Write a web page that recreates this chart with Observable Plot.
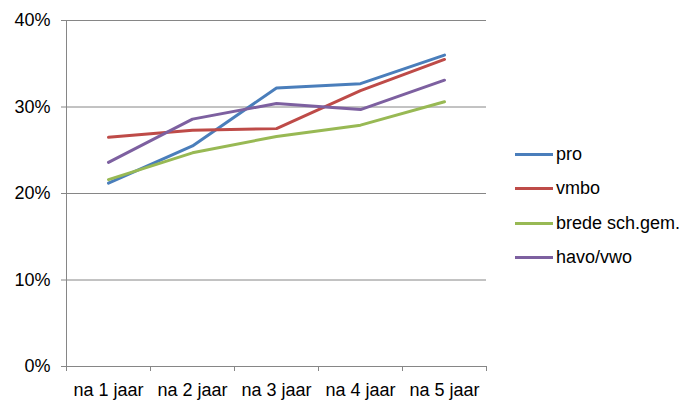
<!DOCTYPE html>
<html><head><meta charset="utf-8">
<script src="https://cdn.jsdelivr.net/npm/d3@7"></script>
<script src="https://cdn.jsdelivr.net/npm/@observablehq/plot@0.6"></script>
<style>
body{margin:0;background:#fff;}
#wrap{position:relative;width:691px;height:402px;font-family:"Liberation Sans Narrow","Liberation Sans",Arial,sans-serif;}
#legend{position:absolute;left:515px;top:137px;font-size:18px;color:#000;}
#legend .item{display:flex;align-items:center;height:34.5px;}
#legend .sw{width:38px;height:3px;margin-right:3px;}
</style></head>
<body><div id="wrap"><div id="legend"></div></div>
<script>
const categories = ["na 1 jaar","na 2 jaar","na 3 jaar","na 4 jaar","na 5 jaar"];
const seriesNames = ["pro","vmbo","brede sch.gem.","havo/vwo"];
const colors = ["#4a7ebb","#be4b48","#98b954","#7d60a0"];
const pro = [0.212,0.255,0.322,0.327,0.360];
const vmbo = [0.265,0.273,0.275,0.319,0.355];
const brede = [0.216,0.247,0.266,0.279,0.306];
const havo = [0.236,0.286,0.304,0.297,0.331];
const yTicks = [0,0.1,0.2,0.3,0.4];

const seriesValues = [pro,vmbo,brede,havo];
const data = [];
seriesNames.forEach((s,si)=>seriesValues[si].forEach((v,i)=>data.push({series:s,idx:i+0.5,value:v})));

const chart = Plot.plot({
  width:691,height:402,
  marginLeft:66,marginRight:205,marginTop:20,marginBottom:36,
  style:{fontFamily:'"Liberation Sans Narrow","Liberation Sans",Arial,sans-serif',fontSize:"18px",color:"#000",background:"#fff"},
  x:{domain:[0,categories.length],axis:null},
  y:{domain:[0,0.4],axis:null},
  color:{domain:seriesNames,range:colors},
  marks:[
    Plot.gridY(yTicks.slice(1),{stroke:"#868686",strokeOpacity:1}),
    Plot.axisY(yTicks,{label:null,tickFormat:d=>Math.round(d*100)+"%",tickSize:5,tickPadding:11,stroke:"#868686",fill:"#000",fontSize:18}),
    Plot.axisX(d3.range(categories.length+1),{label:null,tickFormat:()=>"",tickSize:5,stroke:"#868686"}),
    Plot.axisX(d3.range(categories.length).map(i=>i+0.5),{label:null,tickFormat:d=>categories[Math.floor(d)],tickSize:0,tickPadding:17,fill:"#000",fontSize:18}),
    Plot.ruleX([0],{stroke:"#868686"}),
    Plot.ruleY([0],{stroke:"#868686"}),
    Plot.line(data,{x:"idx",y:"value",z:"series",stroke:"series",strokeWidth:3,strokeLinejoin:"round"})
  ]
});
const wrap=document.getElementById("wrap");
wrap.insertBefore(chart,wrap.firstChild);
const lg=document.getElementById("legend");
seriesNames.forEach((s,i)=>{
  const it=document.createElement("div");it.className="item";
  it.innerHTML=`<span class="sw" style="background:${colors[i]}"></span><span>${s}</span>`;
  lg.appendChild(it);
});
</script></body></html>
